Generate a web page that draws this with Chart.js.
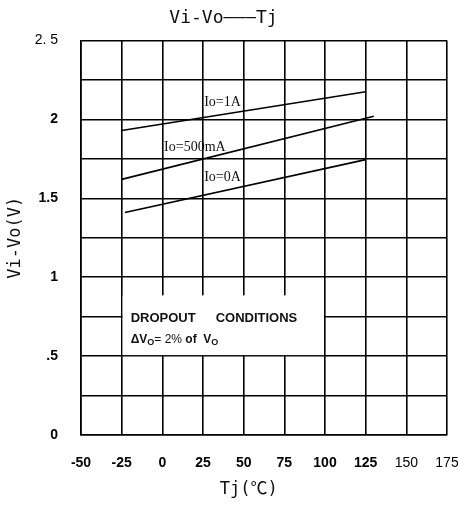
<!DOCTYPE html>
<html>
<head>
<meta charset="utf-8">
<script src="https://cdn.jsdelivr.net/npm/chart.js@4.4.0/dist/chart.umd.min.js"></script>
<style>
  html, body { margin: 0; padding: 0; background: #fff; }
  #wrap { width: 458px; height: 507px; }
</style>
</head>
<body>
<div id="wrap"><canvas id="dropout-chart" width="458" height="507"></canvas></div>
<script>
// temperature (°C) and dropout voltage (V)
const temps1A = [-25, 125];
const volts1A = [1.93, 2.175];
const temps500mA = [-25, 130];
const volts500mA = [1.62, 2.02];
const temps0A = [-23, 125];
const volts0A = [1.41, 1.745];

const xTicks = [-50, -25, 0, 25, 50, 75, 100, 125, 150, 175];
const yTickLabels = { 0: '0', 0.5: '.5', 1: '1', 1.5: '1.5', 2: '2', 2.5: '2. 5' };

// curve labels, in data units
const curveNames = ['Io=1A', 'Io=500mA', 'Io=0A'];
const curveNameTemps = [37, 20, 37];
const curveNameVolts = [2.107, 1.82, 1.63];

function toPoints(xs, ys) {
  return xs.map((x, i) => ({ x: x, y: ys[i] }));
}

const curveNotes = {
  id: 'curveNotes',
  beforeDatasetsDraw(chart) {
    const { ctx, scales: { x, y } } = chart;
    // white note box over the grid
    const l = x.getPixelForValue(-25) + 1;
    const r = x.getPixelForValue(100) - 1;
    const t = y.getPixelForValue(0.885);
    const b = y.getPixelForValue(0.5) - 1;
    ctx.save();
    ctx.fillStyle = '#fff';
    ctx.fillRect(l, t, r - l, b - t);
    ctx.restore();
  },
  afterDatasetsDraw(chart) {
    const { ctx, scales: { x, y } } = chart;
    ctx.save();
    ctx.fillStyle = '#111';
    ctx.textAlign = 'center';
    ctx.textBaseline = 'middle';
    ctx.font = '14px "Liberation Serif"';
    curveNames.forEach((name, i) => {
      ctx.fillText(name, x.getPixelForValue(curveNameTemps[i]), y.getPixelForValue(curveNameVolts[i]));
    });

    // dropout conditions note
    const left = x.getPixelForValue(-25) + 9;
    const row1 = y.getPixelForValue(0.74);
    const row2 = y.getPixelForValue(0.605);
    ctx.textAlign = 'left';
    ctx.font = 'bold 13px "Liberation Sans"';
    ctx.fillText('DROPOUT', left, row1);
    ctx.fillText('CONDITIONS', left + 85, row1);

    let cx = left;
    const part = (txt, font, dy) => {
      ctx.font = font;
      ctx.fillText(txt, cx, row2 + dy);
      cx += ctx.measureText(txt).width;
    };
    part('\u0394V', 'bold 12px "Liberation Sans"', 0);
    part('O', 'bold 9px "Liberation Sans"', 3);
    part('= 2% ', '12px "Liberation Sans"', 0);
    part('of  V', 'bold 12px "Liberation Sans"', 0);
    part('O', 'bold 9px "Liberation Sans"', 3);
    ctx.restore();
  }
};

const lineStyle = { borderColor: '#000', borderWidth: 1.6, pointRadius: 0, fill: false, showLine: true, tension: 0 };

new Chart(document.getElementById('dropout-chart').getContext('2d'), {
  type: 'scatter',
  data: {
    datasets: [
      Object.assign({ label: 'Io=1A', data: toPoints(temps1A, volts1A) }, lineStyle),
      Object.assign({ label: 'Io=500mA', data: toPoints(temps500mA, volts500mA) }, lineStyle),
      Object.assign({ label: 'Io=0A', data: toPoints(temps0A, volts0A) }, lineStyle)
    ]
  },
  options: {
    responsive: false,
    animation: false,
    layout: { padding: { top: 0, right: 11, left: 0, bottom: 0 } },
    plugins: {
      legend: { display: false },
      tooltip: { enabled: false },
      title: {
        display: true,
        text: 'Vi-Vo\u2014\u2014\u2014Tj',
        color: '#111',
        font: { family: '"DejaVu Sans Mono"', size: 18, weight: 'normal', lineHeight: 1.2 },
        padding: { top: 8, bottom: 10.9 }
      }
    },
    scales: {
      x: {
        type: 'linear',
        min: -50,
        max: 175,
        afterBuildTicks: scale => { scale.ticks = xTicks.map(v => ({ value: v })); },
        afterFit: scale => { scale.height = 72; scale.paddingLeft = 0; scale.paddingRight = 0; },
        grid: { color: '#000', lineWidth: 1.6, drawTicks: false },
        border: { display: true, color: '#000', width: 1.6 },
        ticks: {
          color: '#000',
          padding: 20,
          maxRotation: 0,
          autoSkip: false,
          font: c => ({ family: '"Liberation Sans"', size: 14, weight: c.tick && c.tick.value >= 150 ? 'normal' : 'bold' })
        },
        title: {
          display: true,
          text: 'Tj(\u2103)   ',
          color: '#111',
          font: { family: '"DejaVu Sans Mono", "Noto Sans CJK JP"', size: 17, lineHeight: 1.2 },
          padding: { top: 0, bottom: 7 }
        }
      },
      y: {
        min: 0,
        max: 2.5,
        afterFit: scale => { scale.width = 81; scale.paddingTop = 0; scale.paddingBottom = 0; },
        grid: { color: '#000', lineWidth: 1.6, drawTicks: false },
        border: { display: true, color: '#000', width: 1.6 },
        ticks: {
          stepSize: 0.25,
          color: '#000',
          padding: 23,
          autoSkip: false,
          font: c => ({ family: '"Liberation Sans"', size: 14, weight: c.tick && c.tick.value === 2.5 ? 'normal' : 'bold' }),
          callback: v => (yTickLabels[v] !== undefined ? yTickLabels[v] : '')
        },
        title: {
          display: true,
          text: 'Vi-Vo(V)',
          color: '#111',
          font: { family: '"DejaVu Sans Mono"', size: 17, lineHeight: 1.2 },
          padding: { top: 5, bottom: 0 }
        }
      }
    }
  },
  plugins: [curveNotes]
});
</script>
</body>
</html>
